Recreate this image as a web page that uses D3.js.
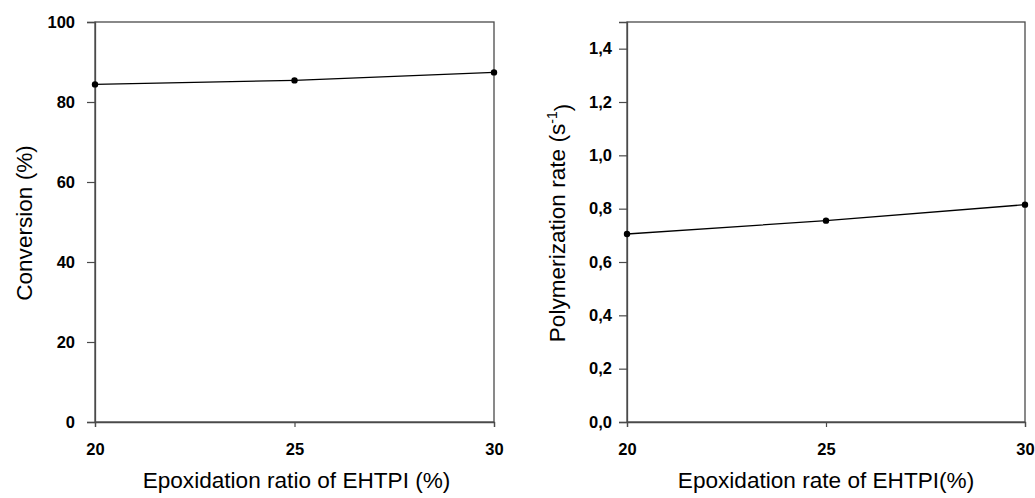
<!DOCTYPE html>
<html>
<head>
<meta charset="utf-8">
<script src="https://cdnjs.cloudflare.com/ajax/libs/d3/7.8.5/d3.min.js"></script>
<style>
    body { margin: 0; background: #fff; }
    svg { display: block; }
    text { font-family: "Liberation Sans", Arial, sans-serif; fill: #000; }
</style>
</head>
<body>
<div id="chart"></div>
<script>
// data
var epoxidation = [20, 25, 30];
var conversion = [84.4, 85.4, 87.4];
var polyRate = [0.705, 0.755, 0.815];
var xTicks = [20, 25, 30];
var convTicks = [0, 20, 40, 60, 80, 100];
var rateTicks = [0, 0.2, 0.4, 0.6, 0.8, 1.0, 1.2, 1.4];

var commaFormat = d3.formatLocale({decimal: ",", thousands: ".", grouping: [3], currency: ["", ""]}).format(".1f");

var svg = d3.select("#chart").append("svg")
    .attr("width", 1035)
    .attr("height", 498);

function drawPanel(opts) {
    var left = opts.left, right = opts.right, top = 22, bottom = 422;

    var x = d3.scaleLinear().domain([20, 30]).range([left, right]);
    var y = d3.scaleLinear().domain(opts.yDomain).range([bottom, top]);

    var g = svg.append("g");

    // frame
    g.append("rect")
        .attr("x", left)
        .attr("y", top)
        .attr("width", right - left)
        .attr("height", bottom - top)
        .attr("fill", "none")
        .attr("stroke", "#4a4a4a")
        .attr("stroke-width", 1.3);

    // y axis
    var yAxis = g.append("g")
        .attr("transform", "translate(" + left + ",0)")
        .call(d3.axisLeft(y).tickValues(opts.yTicks).tickSize(8).tickPadding(opts.yPad).tickFormat(opts.yFormat));
    // x axis
    var xAxis = g.append("g")
        .attr("transform", "translate(0," + bottom + ")")
        .call(d3.axisBottom(x).tickValues(xTicks).tickSize(5).tickPadding(16).tickFormat(d3.format("d")));

    [yAxis, xAxis].forEach(function(a) {
        a.select(".domain").attr("stroke", "#4a4a4a").attr("stroke-width", 1.3);
        a.selectAll(".tick line").attr("stroke", "#4a4a4a").attr("stroke-width", 1.2);
        a.selectAll(".tick text")
            .attr("font-size", "16.5px")
            .attr("font-weight", "bold")
            .attr("font-family", "Liberation Sans, Arial, sans-serif")
            .attr("fill", "#000");
    });

    var pts = epoxidation.map(function(d, i) { return [d, opts.values[i]]; });

    var line = d3.line()
        .x(function(d) { return x(d[0]); })
        .y(function(d) { return y(d[1]); });

    g.append("path")
        .datum(pts)
        .attr("d", line)
        .attr("fill", "none")
        .attr("stroke", "#000")
        .attr("stroke-width", 1.3);

    g.selectAll(".dot")
        .data(pts)
        .enter().append("circle")
        .attr("class", "dot")
        .attr("cx", function(d) { return x(d[0]); })
        .attr("cy", function(d) { return y(d[1]); })
        .attr("r", 3.2)
        .attr("fill", "#000");

    // x title
    g.append("text")
        .attr("x", (left + right) / 2 + opts.xTitleShift)
        .attr("y", 488)
        .attr("text-anchor", "middle")
        .attr("font-size", "22.6px")
        .text(opts.xTitle);

    // y title
    var yt = g.append("text")
        .attr("transform", "translate(" + opts.yTitleX + "," + opts.yTitleY + ") rotate(-90)")
        .attr("text-anchor", "middle")
        .attr("font-size", "22.6px");
    opts.yTitle(yt);
}

drawPanel({
    left: 95, right: 494,
    yDomain: [0, 100],
    yTicks: convTicks,
    yPad: 12,
    yFormat: d3.format("d"),
    values: conversion,
    xTitle: "Epoxidation ratio of EHTPI (%)",
    xTitleShift: 2,
    yTitleX: 32,
    yTitleY: 223,
    yTitle: function(t) { t.text("Conversion (%)"); }
});

drawPanel({
    left: 627, right: 1025,
    yDomain: [0, 1.5],
    yTicks: rateTicks,
    yPad: 7,
    yFormat: commaFormat,
    values: polyRate,
    xTitle: "Epoxidation rate of EHTPI(%)",
    xTitleShift: 0,
    yTitleX: 565,
    yTitleY: 223,
    yTitle: function(t) {
        t.append("tspan").text("Polymerization rate (s");
        t.append("tspan").attr("dy", "-0.55em").attr("font-size", "14px").text("-1");
        t.append("tspan").attr("dy", "0.55em").text(")");
    }
});
</script>
</body>
</html>
